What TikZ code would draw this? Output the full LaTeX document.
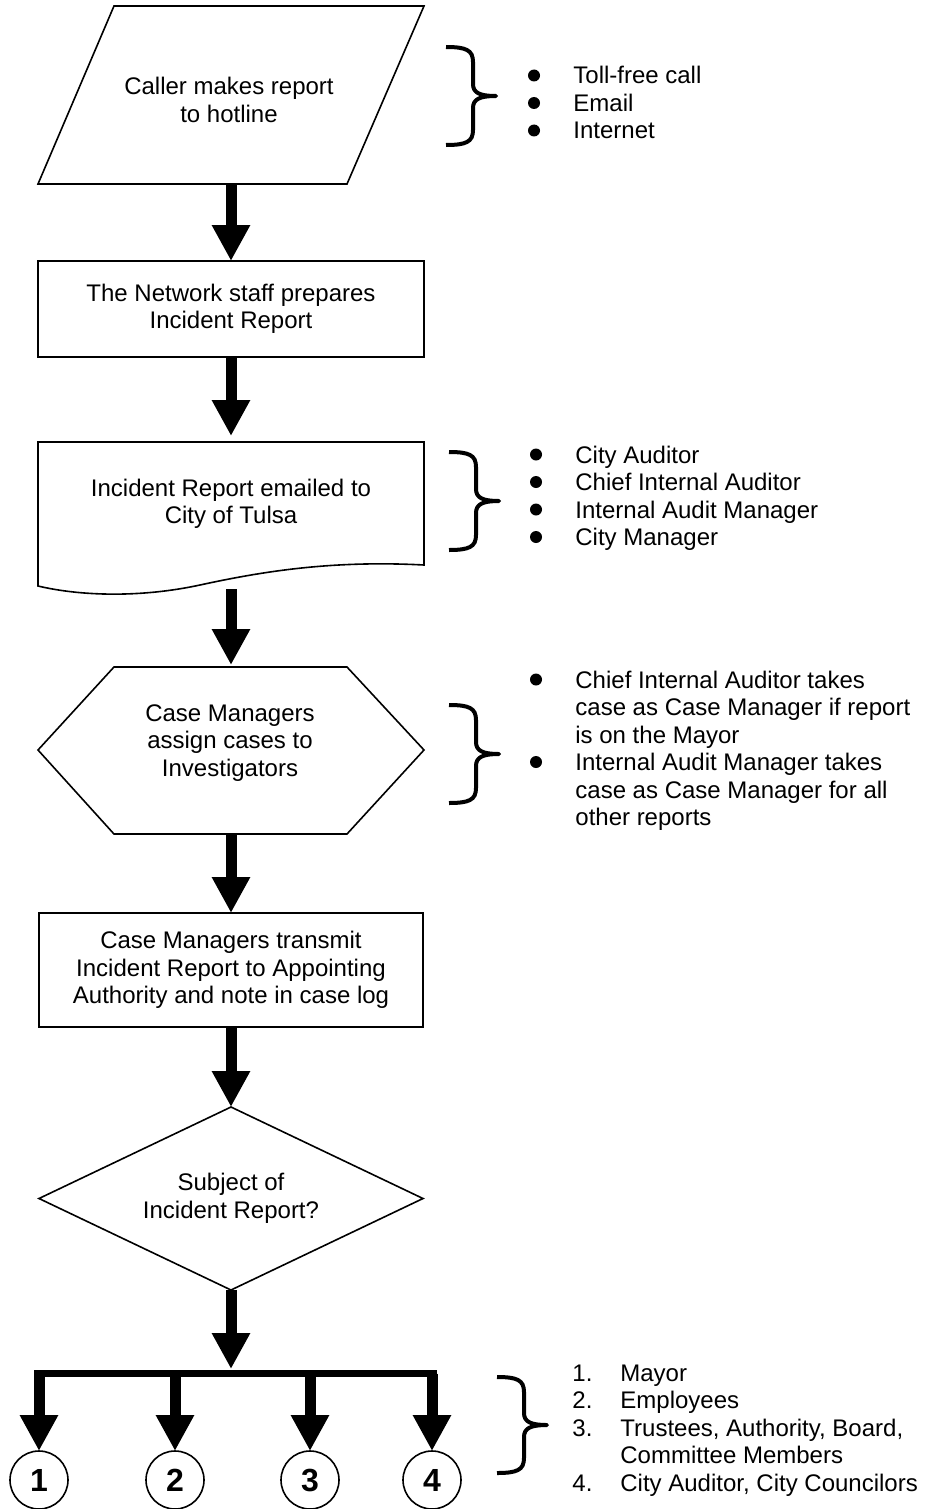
\documentclass[tikz,border=0pt]{standalone}
\usepackage{fontspec}
\setmainfont{Liberation Sans}
\usetikzlibrary{arrows.meta, shapes.geometric}

\tikzset{
  every node/.style={font=\fontsize{12pt}{13.75pt}\selectfont},
  outline/.style={draw, line width=0.8pt},
  stepbox/.style={outline, rectangle, align=center, inner sep=0pt, outer sep=0pt},
  inside/.style={align=center, inner sep=0pt},
  flow/.style={line width=5.5pt, -{Triangle[width=18pt,length=18pt]}},
  curly/.style={line width=2pt, line join=round},
  item/.style={anchor=base west, inner sep=0pt},
  dot/.style={fill=black},
  tag/.style={outline, circle, minimum size=29pt, inner sep=0pt, outer sep=0pt, font=\fontsize{16pt}{18pt}\selectfont\bfseries},
}

\begin{document}
\begin{tikzpicture}[x=0.5pt, y=-0.5pt]
\useasboundingbox (0,0) rectangle (937,1509);

% define brace shift
\tikzstyle{shifts}=[shift={(\xo,\yo)}]

% caller
\draw[outline] (114,6) -- (424,6) -- (347,184) -- (38,184) -- cycle;
\node[inside] (caller) at (229,100) {Caller makes report\\to hotline};
\coordinate (callerbot) at (231,184);

% network staff
\node[stepbox, minimum width=193pt, minimum height=48pt] (network) at (231,309) {The Network staff prepares\\Incident Report};

% emailed report
\draw[outline] (38,442) -- (424,442) -- (424,565) .. controls (330,560) and (260,572) .. (200,585) .. controls (140,598) and (80,596) .. (38,586) -- cycle;
\node[inside] (emailed) at (231,504) {Incident Report emailed to\\City of Tulsa};
\coordinate (doctop) at (231,436);
\coordinate (docbot) at (231,589);

% assign cases
\draw[outline] (114,667) -- (347,667) -- (424,750) -- (347,834) -- (114,834) -- (38,750) -- cycle;
\node[inside] (assign) at (230,743) {Case Managers\\assign cases to\\Investigators};
\coordinate (hextop) at (231,665);
\coordinate (hexbot) at (231,834);

% transmit
\node[stepbox, minimum width=192pt, minimum height=57pt] (transmit) at (231,970) {Case Managers transmit\\Incident Report to Appointing\\Authority and note in case log};

% decision
\node[outline, diamond, inside, aspect=2.1, outer sep=0pt, minimum width=192pt, minimum height=91.5pt] (subject) at (231,1198.5) {Subject of\\Incident Report?};

% outcomes
\node[tag] (c1) at (39,1480) {1};
\node[tag] (c2) at (175,1480) {2};
\node[tag] (c3) at (310,1480) {3};
\node[tag] (c4) at (432,1480) {4};
\coordinate (split) at (231,1369);
\coordinate (busw) at (34,1373.5);
\coordinate (buse) at (437,1373.5);

\draw[flow] (callerbot) -- (network.north);
\draw[flow] (network.south) -- (doctop);
\draw[flow] (docbot) -- (hextop);
\draw[flow] (hexbot) -- (transmit.north);
\draw[flow] (transmit.south) -- (subject.north);
\draw[flow] (subject.south) -- (split);
\draw[line width=3.5pt] (busw) -- (buse);
\draw[flow] (c1 |- busw) -- (c1.north);
\draw[flow] (c2 |- busw) -- (c2.north);
\draw[flow] (c3 |- busw) -- (c3.north);
\draw[flow] (c4 |- busw) -- (c4.north);

% brace1
\pgfmathsetmacro{\xo}{446}
\pgfmathsetmacro{\yo}{47}
\draw[shifts, curly] (0,0) .. controls (20,0) and (27,3) .. (27,15) -- (27,37) .. controls (27,46) and (34,49) .. (50,49) .. controls (34,49) and (27,52) .. (27,61) -- (27,83) .. controls (27,95) and (20,98) .. (0,98);

\fill[dot] (534,75.5) circle (3pt);
\fill[dot] (534,103) circle (3pt);
\fill[dot] (534,130.5) circle (3pt);
\node[item] (via1) at (573,84) {Toll-free call};
\node[item] (via2) at (573,111.5) {Email};
\node[item] (via3) at (573,139) {Internet};

% brace2
\pgfmathsetmacro{\xo}{449}
\pgfmathsetmacro{\yo}{452}
\draw[shifts, curly] (0,0) .. controls (20,0) and (27,3) .. (27,15) -- (27,37) .. controls (27,46) and (34,49) .. (50,49) .. controls (34,49) and (27,52) .. (27,61) -- (27,83) .. controls (27,95) and (20,98) .. (0,98);

\fill[dot] (536,454.5) circle (3pt);
\fill[dot] (536,482) circle (3pt);
\fill[dot] (536,509.5) circle (3pt);
\fill[dot] (536,537) circle (3pt);
\node[item] (rcp1) at (575,463) {City Auditor};
\node[item] (rcp2) at (575,490.5) {Chief Internal Auditor};
\node[item] (rcp3) at (575,518) {Internal Audit Manager};
\node[item] (rcp4) at (575,545.5) {City Manager};

% brace3
\pgfmathsetmacro{\xo}{449}
\pgfmathsetmacro{\yo}{705}
\draw[shifts, curly] (0,0) .. controls (20,0) and (27,3) .. (27,15) -- (27,37) .. controls (27,46) and (34,49) .. (50,49) .. controls (34,49) and (27,52) .. (27,61) -- (27,83) .. controls (27,95) and (20,98) .. (0,98);

\fill[dot] (536,679.5) circle (3pt);
\fill[dot] (536,762) circle (3pt);
\node[item] (cm1) at (575,688) {Chief Internal Auditor takes};
\node[item] (cm2) at (575,715.5) {case as Case Manager if report};
\node[item] (cm3) at (575,743) {is on the Mayor};
\node[item] (cm4) at (575,770.5) {Internal Audit Manager takes};
\node[item] (cm5) at (575,798) {case as Case Manager for all};
\node[item] (cm6) at (575,825.5) {other reports};

% brace4
\pgfmathsetmacro{\xo}{497}
\pgfmathsetmacro{\yo}{1377}
\draw[shifts, curly] (0,0) .. controls (20,0) and (27,3) .. (27,15) -- (27,36) .. controls (27,45) and (34,48) .. (50,48) .. controls (34,48) and (27,51) .. (27,60) -- (27,81) .. controls (27,93) and (20,96) .. (0,96);

\node[item] (n1) at (572,1381) {1.};
\node[item] (n2) at (572,1408.5) {2.};
\node[item] (n3) at (572,1436) {3.};
\node[item] (n4) at (572,1491) {4.};
\node[item] (who1) at (620,1381) {Mayor};
\node[item] (who2) at (620,1408.5) {Employees};
\node[item] (who3) at (620,1436) {Trustees, Authority, Board,};
\node[item] (who3b) at (620,1463.5) {Committee Members};
\node[item] (who4) at (620,1491) {City Auditor, City Councilors};

\end{tikzpicture}
\end{document}
